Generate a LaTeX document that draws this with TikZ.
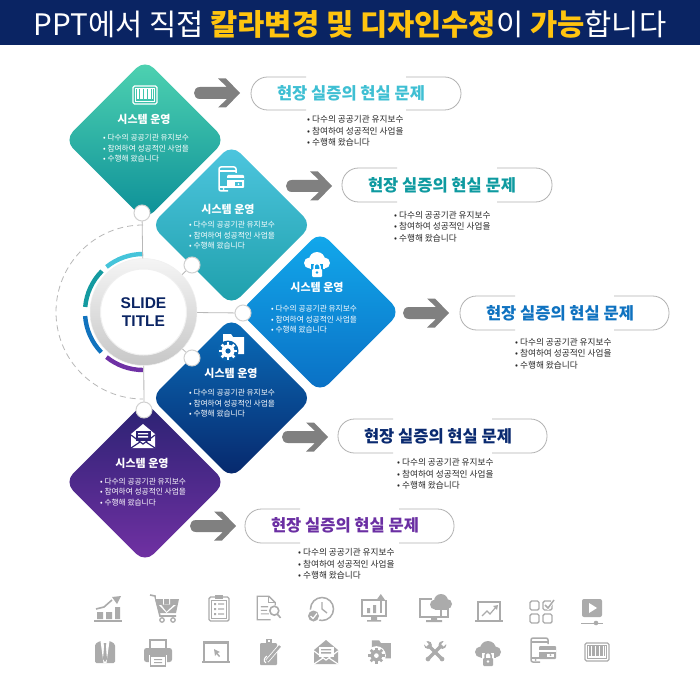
\documentclass[tikz,border=0pt]{standalone}
\usepackage{fontspec}
\setmainfont{Noto Sans CJK KR}
\newfontfamily\latinbold[BoldFont=Liberation Sans Bold]{Liberation Sans}
\definecolor{navy}{HTML}{0A2463}
\definecolor{gold}{HTML}{FFC40F}
\definecolor{arrowgray}{HTML}{808080}
\definecolor{icongray}{HTML}{ABABAB}
\definecolor{aT}{HTML}{4FD3B1}\definecolor{aB}{HTML}{0C8F98}
\definecolor{bT}{HTML}{4EC6DF}\definecolor{bB}{HTML}{1E9FAB}
\definecolor{cT}{HTML}{12A9EC}\definecolor{cB}{HTML}{0A6FC4}
\definecolor{dT}{HTML}{0A6EBB}\definecolor{dB}{HTML}{07276B}
\definecolor{eT}{HTML}{2A2272}\definecolor{eB}{HTML}{7231A4}
\definecolor{segA}{HTML}{45C4DA}\definecolor{segB}{HTML}{149AA0}
\definecolor{segC}{HTML}{1173BE}\definecolor{segD}{HTML}{6F31A5}
\definecolor{bgA}{HTML}{41C6AF}\definecolor{bgB}{HTML}{45BFD6}
\definecolor{bgC}{HTML}{109EE4}\definecolor{bgD}{HTML}{0A64AE}\definecolor{bgE}{HTML}{2C2274}
\definecolor{pA}{HTML}{3FBFD3}\definecolor{pB}{HTML}{0E9AA0}\definecolor{pC}{HTML}{0F72C0}
\definecolor{pD}{HTML}{0A2A70}\definecolor{pE}{HTML}{6B2FA3}
\colorlet{ic}{icongray}
\colorlet{icb}{white}
\tikzset{
  x=1pt,y=-1pt,
  dtitle/.style={font=\fontsize{11}{11}\selectfont\bfseries,text=white,inner sep=0pt},
  dline/.style={font=\fontsize{7.7}{8}\selectfont,text=white,anchor=west,inner sep=0pt},
  ptitle/.style={font=\fontsize{16.5}{16.5}\selectfont\bfseries,inner sep=0pt},
  pline/.style={font=\fontsize{8.65}{9}\selectfont,text=black!85,anchor=west,inner sep=0pt},
  dot/.style={circle,fill=white,draw=black!18,line width=1pt,minimum size=16pt,inner sep=0pt},
  link/.style={draw=black!28,line width=0.8pt},
  pillline/.style={draw=black!30,line width=0.8pt},
}
% rounded diamond: centre x, y, top colour, bottom colour
\newcommand\dmd[4]{\shade[rounded corners=12pt,top color=#3,bottom color=#4]
  (#1,#2-80.5)--(#1+80.5,#2)--(#1,#2+80.5)--(#1-80.5,#2)--cycle;}
% pill outline: left, right, top, bottom
\newcommand\pill[4]{\draw[pillline,rounded corners=16.5pt]
  (#1+55,#3)--(#1,#3)--(#1,#4)--(#1+55,#4);
  \draw[pillline,rounded corners=16.5pt]
  (#2-55,#3)--(#2,#3)--(#2,#4)--(#2-55,#4);}
% block arrow with left end x, centre y
\newcommand\barrow[2]{\begin{scope}[shift={(#1,#2)}]
  \fill[arrowgray] (6,-6)--(33,-6)--(24,-14.5)--(32,-14.5)--(46,0)--(32,14.5)--(24,14.5)--(33,6)--(6,6)
   .. controls (-2,6) and (-2,-6) .. (6,-6)--cycle;
  \end{scope}}
% three-line block: x, y1, y2, y3, style
\newcommand\threelines[5]{
  \node[#5] at (#1,#2) {• 다수의 공공기관 유지보수};
  \node[#5] at (#1,#3) {• 참여하여 성공적인 사업을};
  \node[#5] at (#1,#4) {• 수행해 왔습니다};}
\newcommand\ico[4][1]{\begin{scope}[shift={(#2,#3)},scale=#1]#4\end{scope}}
% icons
\newcommand\icBarcode{
  \draw[draw=ic,line width=1.2pt,rounded corners=1.5pt] (-12,-9) rectangle (12,9);
  \draw[draw=ic,line width=.8pt] (-9.5,-6.5) rectangle (9.5,6.5);
  \foreach \a/\w in {-7/1.2,-5/.6,-3/1.4,-1/.6,1/1.2,3/.6,5/1.4,7/.7}{\draw[ic,line width=\w pt] (\a,-6) -- (\a,4);}}
\newcommand\icPhoneCard{
  \draw[draw=ic,line width=1.5pt,rounded corners=2pt] (-2,10)--(-11,10)--(-11,-14)--(6,-14)--(6,-8);
  \draw[draw=ic,line width=1.5pt] (-11,-10)--(6,-10) (-11,6)--(-2,6);
  \fill[ic] (-6.5,8) circle (1);
  \fill[ic,rounded corners=1pt] (-3,-6) rectangle (14,7);
  \fill[icb] (-3,-2.5) rectangle (14,-.5);
  \fill[icb] (5,1.5) rectangle (12,5);
  \fill[ic] (8.5,3.2) circle (1);}
\newcommand\icCloudLock{
  \fill[ic] (-7.5,0) circle (5.5) (0,-3) circle (8) (7.5,0) circle (5.5);
  \fill[ic] (-7.5,-1) rectangle (7.5,5.5);
  \fill[icb] (-6,1) rectangle (6,14);
  \draw[ic,line width=1.5pt] (-3,6) -- (-3,3.5) arc (180:360:3) -- (3,6);
  \fill[ic,rounded corners=1pt] (-5,6) rectangle (5,14);
  \fill[icb] (0,9.5) circle (1.3);}
\newcommand\icGearFolder{
  \fill[ic] (-9,-13) -- (-1,-13) -- (1,-10) -- (12,-10) -- (12,7) -- (-9,7) -- cycle;
  \fill[icb] (-4,4) circle (10.5);
  \foreach \a in {0,45,...,315}{\draw[ic,line width=2.6pt] (-4,4) ++(\a:5) -- ++(\a:4);}
  \fill[ic] (-4,4) circle (6.5);
  \fill[icb] (-4,4) circle (2.6);}
\newcommand\icMail{
  \fill[ic] (-12,-3) -- (0,-13) -- (12,-3) -- (12,11) -- (-12,11) -- cycle;
  \fill[icb] (-7.5,-6) rectangle (7.5,4);
  \fill[ic] (-5,-4) rectangle (5,-2.6) (-5,-.8) rectangle (5,.6);
  \draw[icb,line width=1.2pt] (-12,-2)--(0,7)--(12,-2) (-12,11)--(-3,5) (12,11)--(3,5);}
\newcommand\icChart{
  \fill[ic] (-14,11) rectangle (14,12.5);
  \fill[ic] (-11,3) rectangle (-5,10) (-2,3) rectangle (4,10) (7,-2) rectangle (12,10);
  \draw[ic,line width=1.6pt] (-12,0)--(-4,-2)--(4,-9);
  \fill[ic] (13,-13)--(4,-12)--(9,-5)--cycle;}
\newcommand\icCart{
  \draw[ic,line width=1.6pt] (-15,-13)--(-10,-12)--(-5,8)--(11,8);
  \fill[ic] (-10,-9)--(14,-9)--(11,5)--(-6,5)--cycle;
  \fill[icb] (-2,-9) rectangle (5,-2) (-6,-3)--(11,-3)--(1.5,5)--cycle;
  \fill[ic] (-1,-9) rectangle (4,-3) (-4,-3.5)--(9,-3.5)--(1.5,3.5)--cycle;
  \fill[icb] (-9,-12) rectangle (14,-9);
  \draw[ic,line width=1.3pt] (-3,12) circle (2.2) (8,12) circle (2.2);}
\newcommand\icClipList{
  \draw[ic,line width=1.4pt,rounded corners=1.5pt] (-10,-11) rectangle (10,13);
  \draw[ic,line width=.7pt] (-7.5,-8) rectangle (7.5,10);
  \fill[ic] (-4,-13) rectangle (4,-9);
  \foreach \y in {-4,1,6}{\fill[ic] (-5,\y-1) rectangle (-3,\y+1) (-1,\y-.6) rectangle (5,\y+.6);}}
\newcommand\icDocSearch{
  \draw[ic,line width=1.3pt] (3,13)--(-12,13)--(-12,-13)--(1,-13)--(8,-6)--(8,-3);
  \draw[ic,line width=1pt] (1,-13)--(1,-6)--(8,-6);
  \fill[ic] (-8,-2) rectangle (0,-.8) (-8,2) rectangle (-1,3.2) (-8,6) rectangle (1,7.2);
  \draw[ic,line width=1.6pt] (7,3) circle (5) (10.5,7)--(14,11);}
\newcommand\icClock{
  \draw[ic,line width=1.5pt] (2,0) circle (11.5);
  \draw[ic,line width=1.4pt] (2,-7)--(2,0)--(7,4);
  \fill[icb] (-6.5,7) circle (7);
  \fill[ic] (-6.5,7) circle (5.5);
  \draw[icb,line width=1.2pt] (-9.5,7)--(-7,9.5)--(-3,4.5);}
\newcommand\icSuit{
  \fill[ic,rounded corners=1.5pt] (-10,-8) -- (-5,-11) -- (5,-11) -- (10,-8) -- (10,11) -- (-10,11) -- cycle;
  \fill[icb] (-4.5,-11) -- (4.5,-11) -- (1.5,11) -- (-1.5,11) -- cycle;
  \fill[ic] (-1.3,-9)--(1.3,-9)--(.8,-6)--(2,7)--(0,10)--(-2,7)--(-.8,-6)--cycle;}
\newcommand\icPrinter{
  \draw[ic,line width=1.4pt] (-8,-5)--(-8,-13)--(8,-13)--(8,-5);
  \fill[ic,rounded corners=2.5pt] (-14,-5) rectangle (14,9);
  \fill[icb] (-9,2) rectangle (9,14);
  \draw[ic,line width=1.3pt] (-7.5,3) rectangle (7.5,13);
  \fill[ic] (-4,6) rectangle (4,7) (-4,9) rectangle (4,10);}
\newcommand\icLaptop{
  \draw[ic,line width=1.4pt] (-12,9)--(-12,-10)--(12,-10)--(12,9);
  \fill[ic] (-12,-11) rectangle (12,-8);
  \fill[ic] (-14,9) rectangle (14,11);
  \fill[ic] (-2,-3)--(4,0)--(1.5,1)--(4,4)--(3,5)--(.5,2)--(-1,4)--cycle;}
\newcommand\icClipPen{
  \fill[ic,rounded corners=1pt] (-10,-9) rectangle (7,13);
  \fill[ic] (-4,-13) rectangle (2,-8);
  \fill[icb] (-2,-12) rectangle (0,-10);
  \draw[icb,line width=4pt] (-3,9)--(10,-6);
  \draw[ic,line width=2.4pt] (-3,9)--(10,-6);
  \draw[icb,line width=1pt] (-4,11) .. controls (-7,9) and (-6,6) .. (-3,4);}
\newcommand\icMonChart{
  \draw[ic,line width=1.4pt] (4,-8)--(-12,-8)--(-12,8)--(12,8)--(12,-8);
  \fill[ic] (-12,-8) rectangle (12,-7);
  \fill[ic] (-3,8) rectangle (3,12) (-7,12) rectangle (7,13.5);
  \fill[ic] (-7,0) rectangle (-4,5) (-1,-3) rectangle (2,5);
  \fill[ic] (5.5,-8) rectangle (8,5);
  \fill[ic] (6.8,-14)--(2.5,-8)--(11,-8)--cycle;}
\newcommand\icMonCloud{
  \draw[ic,line width=1.6pt] (-2,-9)--(-14,-9)--(-14,9)--(14,9)--(14,0);
  \fill[ic] (-3,8) rectangle (3,12) (-8,12) rectangle (8,14);
  \fill[ic] (1,-3.5) circle (5) (7,-7) circle (7) (13,-4) circle (5);
  \fill[ic] (1,-4) rectangle (13,1.5);
  \draw[ic,line width=1.2pt] (7,1)--(7,9);}
\newcommand\icLapChart{
  \draw[ic,line width=1.3pt] (-11,9)--(-11,-9)--(11,-9)--(11,9);
  \fill[ic] (-11,-10) rectangle (11,-8);
  \fill[ic] (-14,9) rectangle (14,11);
  \draw[ic,line width=1.2pt] (-7,5)--(-2,0)--(1,3)--(7,-4);
  \fill[ic] (9,-6)--(4,-5)--(8,-1)--cycle;}
\newcommand\icGrid{
  \foreach \px/\py in {-11/-11,-11/2,2/2}{\draw[ic,line width=1.4pt,rounded corners=1.5pt] (\px,\py) rectangle ++(9,9);}
  \draw[ic,line width=1.4pt,rounded corners=1.5pt] (2,-11) rectangle ++(9,9);
  \draw[icb,line width=3pt] (4,-7)--(7,-4)--(13,-12);
  \draw[ic,line width=1.5pt] (4,-7)--(7,-4)--(13,-12);}
\newcommand\icVideo{
  \fill[ic,rounded corners=2pt] (-10,-13) rectangle (10,5);
  \fill[icb] (-3,-9)--(5,-4)--(-3,1)--cycle;
  \draw[ic,line width=1pt] (-11,11)--(11,11);
  \fill[ic] (4,11) circle (2.3);}
\newcommand\icTools{
  \draw[ic,line width=3.5pt] (-8,-8)--(9,9);
  \draw[ic,line width=3.5pt] (9,-9)--(-9,9);
  \fill[ic] (-9,-9) circle (5) (9.5,-9) circle (5);
  \fill[icb] (-12,-14) -- (-8,-10) -- (-11,-7) -- (-15,-11) -- cycle;
  \fill[icb] (12,-14) -- (8,-10) -- (11,-7) -- (15,-11) -- cycle;
  \fill[ic] (-9,9) circle (3) (9,9) circle (3);}

\begin{document}
\begin{tikzpicture}
\useasboundingbox (0,0) rectangle (700,700);
\fill[white] (0,0) rectangle (700,700);
\fill[navy] (0,0) rectangle (700,45.5);
\node[inner sep=0pt,text=white,font=\fontsize{29.6}{30}\selectfont] (head) at (350,24)
  {PPT에서 직접 \textcolor{gold}{\bfseries 칼라변경 및 디자인수정}이 \textcolor{gold}{\bfseries 가능}합니다};

% dashed ring
\draw[black!28,dash pattern=on 6pt off 4pt,line width=.8pt] (143,225) arc (-90:-270:87);

% diamonds
\dmd{145}{140}{aT}{aB}
\dmd{231.5}{225}{bT}{bB}
\dmd{320}{312}{cT}{cB}
\dmd{231.5}{398}{dT}{dB}
\dmd{145}{482}{eT}{eB}

% gauge segments
\draw[line width=4.4pt,segA] (143,312) ++(-90:58) arc (-90:-129:58);
\draw[line width=4.4pt,segB] (143,312) ++(-135:58) arc (-135:-175:58);
\draw[line width=4.4pt,segC] (143,312) ++(-184:58) arc (-184:-224:58);
\draw[line width=4.4pt,segD] (143,312) ++(-231:58) arc (-231:-270:58);

% hub
\node[circle,minimum size=107pt,inner sep=0pt,top color=black!4,bottom color=black!22,draw=black!6,line width=.5pt] (hub) at (143.5,312) {};
\node[circle,minimum size=86pt,inner sep=0pt,fill=white,draw=black!6,line width=1pt,
  align=center,text=navy,font=\latinbold\bfseries\fontsize{15.5}{18}\selectfont] (hubtext) at (143.5,312) {SLIDE\\TITLE};

% dots and connectors
\node[dot] (d1) at (142,213) {};
\node[dot] (d2) at (192,265) {};
\node[dot] (d3) at (243,313) {};
\node[dot] (d4) at (192,358) {};
\node[dot] (d5) at (144,410) {};
\draw[link] (d1)--(hub);
\draw[link] (d2)--(hub);
\draw[link] (d3)--(hub);
\draw[link] (d4)--(hub);
\draw[link] (d5)--(hub);

% diamond contents
\begin{scope}[]
\colorlet{ic}{white}
\colorlet{icb}{bgA}\ico{145}{95}{\icBarcode}
\colorlet{icb}{bgB}\ico{230}{181}{\icPhoneCard}
\colorlet{icb}{bgC}\ico{317}{263}{\icCloudLock}
\colorlet{icb}{bgD}\ico{232}{347}{\icGearFolder}
\colorlet{icb}{bgE}\ico{143}{437}{\icMail}
\end{scope}
\colorlet{ic}{icongray}\colorlet{icb}{white}

\node[dtitle] (t1) at (144,119) {시스템 운영};
\threelines{103}{138}{149}{159}{dline}
\node[dtitle] (t2) at (228,209) {시스템 운영};
\threelines{189}{225}{236}{246}{dline}
\node[dtitle] (t3) at (317,287) {시스템 운영};
\threelines{271}{309}{320}{330}{dline}
\node[dtitle] (t4) at (231,373) {시스템 운영};
\threelines{189}{393}{404}{414}{dline}
\node[dtitle] (t5) at (142,463) {시스템 운영};
\threelines{100}{482}{492}{503}{dline}

% arrows
\barrow{194}{93}
\barrow{286}{186}
\barrow{403}{313}
\barrow{282}{437}
\barrow{190}{526}

% pills
\pill{251}{461}{77}{110}
\node[ptitle,text=pA] (p1) at (351,93.5) {현장 실증의 현실 문제};
\threelines{307}{119}{131}{142}{pline}
\pill{342}{552}{168}{202}
\node[ptitle,text=pB] (p2) at (442,185) {현장 실증의 현실 문제};
\threelines{394}{215}{226}{238}{pline}
\pill{460}{669}{296}{330}
\node[ptitle,text=pC] (p3) at (560,313) {현장 실증의 현실 문제};
\threelines{515}{342}{353}{365}{pline}
\pill{338}{547}{419}{453}
\node[ptitle,text=pD] (p4) at (438,436) {현장 실증의 현실 문제};
\threelines{397}{462}{474}{485}{pline}
\pill{245}{454}{509}{543}
\node[ptitle,text=pE] (p5) at (345,525) {현장 실증의 현실 문제};
\threelines{298}{552}{564}{575}{pline}

% icon rows
\ico{108}{609}{\icChart}
\ico{165}{608}{\icCart}
\ico{219}{608}{\icClipList}
\ico[.9]{268}{608}{\icDocSearch}
\ico{320}{609}{\icClock}
\ico{374}{608}{\icMonChart}
\ico{434}{608}{\icMonCloud}
\ico{489}{611}{\icLapChart}
\ico{541}{612}{\icGrid}
\ico{592}{612}{\icVideo}
\ico{105}{652}{\icSuit}
\ico{158}{653}{\icPrinter}
\ico{216}{652}{\icLaptop}
\ico{270}{652}{\icClipPen}
\ico{326}{653}{\icMail}
\ico[.9]{380}{652}{\icGearFolder}
\ico[.78]{435}{652}{\icTools}
\ico{488}{652}{\icCloudLock}
\ico{542}{652}{\icPhoneCard}
\ico{597}{652}{\icBarcode}
\end{tikzpicture}
\end{document}
